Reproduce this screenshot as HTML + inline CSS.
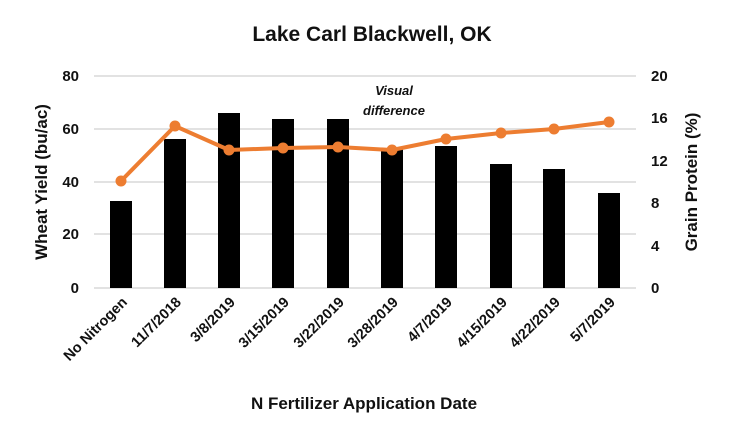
<!DOCTYPE html>
<html><head><style>
body{margin:0;background:#fff;}
svg text{font-family:"Liberation Sans",sans-serif;}
</style></head><body>
<svg width="730" height="438" viewBox="0 0 730 438" xmlns="http://www.w3.org/2000/svg">
<rect width="730" height="438" fill="#fff"/>
<text x="372" y="41" text-anchor="middle" font-size="21" font-weight="bold" fill="#111">Lake Carl Blackwell, OK</text>
<g stroke="#d9d9d9" stroke-width="1.5">
<line x1="94" x2="636" y1="76" y2="76"/>
<line x1="94" x2="636" y1="129" y2="129"/>
<line x1="94" x2="636" y1="182" y2="182"/>
<line x1="94" x2="636" y1="234" y2="234"/>
<line x1="94" x2="636" y1="288" y2="288"/>
</g>
<g font-size="15" font-weight="bold" fill="#111" text-anchor="end">
<text x="79" y="81">80</text><text x="79" y="134">60</text><text x="79" y="187">40</text><text x="79" y="239">20</text><text x="79" y="293">0</text>
</g>
<g font-size="15" font-weight="bold" fill="#111" text-anchor="start">
<text x="651" y="81">20</text><text x="651" y="123">16</text><text x="651" y="166">12</text><text x="651" y="208">8</text><text x="651" y="251">4</text><text x="651" y="293">0</text>
</g>
<text transform="translate(47,182) rotate(-90)" text-anchor="middle" font-size="17" font-weight="bold" fill="#111">Wheat Yield (bu/ac)</text>
<text transform="translate(697,182) rotate(-90)" text-anchor="middle" font-size="17" font-weight="bold" fill="#111">Grain Protein (%)</text>
<g fill="#000">
<rect x="110" y="201" width="22" height="87"/>
<rect x="164" y="139" width="22" height="149"/>
<rect x="218" y="113" width="22" height="175"/>
<rect x="272" y="119" width="22" height="169"/>
<rect x="327" y="119" width="22" height="169"/>
<rect x="381" y="149" width="22" height="139"/>
<rect x="435" y="146" width="22" height="142"/>
<rect x="490" y="164" width="22" height="124"/>
<rect x="543" y="169" width="22" height="119"/>
<rect x="598" y="193" width="22" height="95"/>
</g>
<polyline fill="none" stroke="#ed7d31" stroke-width="4" stroke-linejoin="round" points="121,181 175,126 229,150 283,148 338,147 392,150 446,139 501,133 554,129 609,122"/>
<g fill="#ed7d31">
<circle cx="121" cy="181" r="5.5"/><circle cx="175" cy="126" r="5.5"/><circle cx="229" cy="150" r="5.5"/><circle cx="283" cy="148" r="5.5"/><circle cx="338" cy="147" r="5.5"/><circle cx="392" cy="150" r="5.5"/><circle cx="446" cy="139" r="5.5"/><circle cx="501" cy="133" r="5.5"/><circle cx="554" cy="129" r="5.5"/><circle cx="609" cy="122" r="5.5"/>
</g>
<g font-size="13" font-weight="bold" font-style="italic" fill="#111" text-anchor="middle">
<text x="394" y="95">Visual</text><text x="394" y="115">difference</text>
</g>
<g font-size="14.5" font-weight="bold" fill="#111" text-anchor="end">
<text transform="translate(128,303) rotate(-45)">No Nitrogen</text>
<text transform="translate(182,303) rotate(-45)">11/7/2018</text>
<text transform="translate(236,303) rotate(-45)">3/8/2019</text>
<text transform="translate(290,303) rotate(-45)">3/15/2019</text>
<text transform="translate(345,303) rotate(-45)">3/22/2019</text>
<text transform="translate(399,303) rotate(-45)">3/28/2019</text>
<text transform="translate(453,303) rotate(-45)">4/7/2019</text>
<text transform="translate(508,303) rotate(-45)">4/15/2019</text>
<text transform="translate(561,303) rotate(-45)">4/22/2019</text>
<text transform="translate(616,303) rotate(-45)">5/7/2019</text>
</g>
<text x="364" y="409" text-anchor="middle" font-size="17" font-weight="bold" fill="#111">N Fertilizer Application Date</text>
</svg>
</body></html>
